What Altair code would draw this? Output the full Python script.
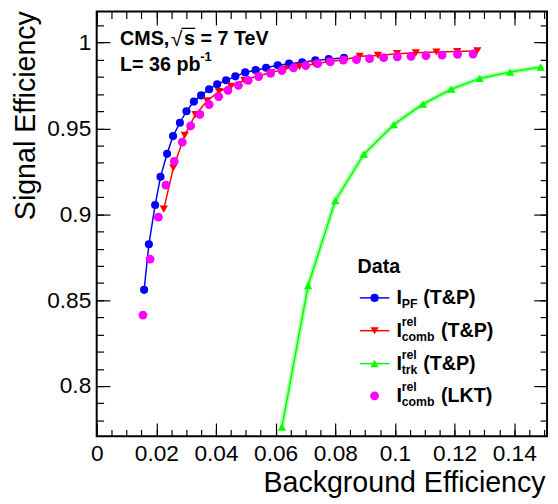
import altair as alt
import pandas as pd

# ---------------- data ----------------
pf_x = [0.0159, 0.0175, 0.0196, 0.0214, 0.0236, 0.0256, 0.0279, 0.0301, 0.0326, 0.0350,
        0.0377, 0.0404, 0.0434, 0.0465, 0.0498, 0.0533, 0.0568, 0.0607, 0.0645, 0.0689,
        0.0733, 0.0778, 0.0829]
pf_y = [0.856, 0.8825, 0.9054, 0.9218, 0.9352, 0.9455, 0.9533, 0.9600, 0.9656, 0.9692,
        0.9728, 0.9757, 0.9780, 0.9803, 0.9826, 0.9839, 0.9853, 0.9868, 0.9877, 0.9885,
        0.9896, 0.9903, 0.9911]

comb_x = [0.0225, 0.0257, 0.0295, 0.0331, 0.0370, 0.0410, 0.0450, 0.0495, 0.0540, 0.0585,
          0.0630, 0.0680, 0.0730, 0.0780, 0.0830, 0.0882, 0.0943, 0.1007, 0.1070, 0.1139,
          0.1209, 0.1276]
comb_y = [0.903, 0.927, 0.946, 0.958, 0.966, 0.9715, 0.9745, 0.978, 0.9805, 0.9825,
          0.9845, 0.986, 0.9875, 0.989, 0.990, 0.992, 0.9925, 0.9935, 0.994, 0.9945,
          0.9948, 0.9952]

trk_x = [0.0621, 0.0709, 0.0800, 0.0896, 0.0996, 0.1094, 0.1189, 0.1284, 0.1386, 0.1489]
trk_y = [0.776, 0.8585, 0.9079, 0.935, 0.9522, 0.9642, 0.9728, 0.9791, 0.9828, 0.9857]

lkt_x = [0.0155, 0.0179, 0.0207, 0.0232, 0.0260, 0.0287, 0.0315, 0.0346, 0.0377, 0.0409,
         0.0440, 0.0475, 0.0508, 0.0543, 0.0583, 0.0621, 0.0660, 0.0701, 0.0741, 0.0783,
         0.0827, 0.0871, 0.0915, 0.0962, 0.1008, 0.1054, 0.1104, 0.1158, 0.1210, 0.1262]
lkt_y = [0.8413, 0.8739, 0.8983, 0.9170, 0.9308, 0.9420, 0.9514, 0.9581, 0.9639, 0.9685,
         0.9722, 0.9751, 0.9780, 0.9801, 0.9820, 0.9837, 0.9853, 0.9866, 0.9877, 0.9887,
         0.9897, 0.9900, 0.9906, 0.9912, 0.9917, 0.9920, 0.9923, 0.9927, 0.9931, 0.9933]

x_major = [0, 0.02, 0.04, 0.06, 0.08, 0.1, 0.12, 0.14]
y_major = [0.8, 0.85, 0.9, 0.95, 1.0]
x_minor = [round(i * 0.005, 3) for i in range(0, 31)]
y_minor = [round(0.78 + i * 0.01, 2) for i in range(0, 24)]

x_title = "Background Efficiency"
y_title = "Signal Efficiency"

legend_head = "Data"
legend_sub = ["PF", "comb", "trk", "comb"]
legend_sup = ["", "rel", "rel", "rel"]
legend_suffix = ["(T&P)", "(T&P)", "(T&P)", "(LKT)"]
series_colors = ["#0000ff", "#ff0000", "#00ff00", "#ff00ff"]
series_shapes = ["circle", "triangle-down", "triangle-up", "circle"]

# ---------------- layout ----------------
W, H = 457, 431
XDOM = [0, 0.151]
YDOM = [0.7707, 1.018]
FONT = "Liberation Sans"
MAJ, MIN = 13.5, 7
SIZES = [68, 70, 72, 80]

xs = alt.Scale(domain=XDOM, nice=False, zero=False)
ys = alt.Scale(domain=YDOM, nice=False, zero=False)

df_pf = pd.DataFrame({"x": pf_x, "y": pf_y})
df_comb = pd.DataFrame({"x": comb_x, "y": comb_y})
df_trk = pd.DataFrame({"x": trk_x, "y": trk_y})
df_lkt = pd.DataFrame({"x": lkt_x, "y": lkt_y})
df_all = pd.concat([df_pf, df_comb, df_trk, df_lkt], ignore_index=True)
one = pd.DataFrame({"k": [0]})


def axis_layer(xaxis, yaxis):
    return alt.Chart(df_all).mark_point(opacity=0).encode(
        x=alt.X("x:Q", scale=xs, axis=xaxis),
        y=alt.Y("y:Q", scale=ys, axis=yaxis),
    )


common = dict(domain=False, grid=False, tickColor="black", tickWidth=1.2)

ax_bottom = alt.Axis(orient="bottom", values=x_major, tickSize=MAJ, offset=-MAJ,
                     format="~g", labelFont=FONT, labelFontSize=23, labelColor="black",
                     labelPadding=7, labelFlush=False, labelOverlap=False,
                     title=x_title, titleFont=FONT, titleFontSize=29,
                     titleFontWeight="normal", titleColor="black", titleAlign="right",
                     titleBaseline="alphabetic", titleX=W - 2, titleY=69,
                     **common)
ax_left = alt.Axis(orient="left", values=y_major, tickSize=MAJ, offset=-MAJ,
                   format="~g", labelFont=FONT, labelFontSize=23, labelColor="black",
                   labelPadding=6, labelFlush=False, labelOverlap=False,
                   title=y_title, titleFont=FONT, titleFontSize=29, titleAngle=270,
                   titleFontWeight="normal", titleColor="black", titleAlign="right",
                   titleBaseline="alphabetic", titleX=-63 - MAJ, titleY=-1,
                   **common)
ax_bottom_min = alt.Axis(orient="bottom", values=x_minor, tickSize=MIN, offset=-MIN,
                         labels=False, title=None, **common)
ax_left_min = alt.Axis(orient="left", values=y_minor, tickSize=MIN, offset=-MIN,
                       labels=False, title=None, **common)
ax_top = alt.Axis(orient="top", values=x_major, tickSize=MAJ, offset=-MAJ,
                  labels=False, title=None, **common)
ax_right = alt.Axis(orient="right", values=y_major, tickSize=MAJ, offset=-MAJ,
                    labels=False, title=None, **common)
ax_top_min = alt.Axis(orient="top", values=x_minor, tickSize=MIN, offset=-MIN,
                      labels=False, title=None, **common)
ax_right_min = alt.Axis(orient="right", values=y_minor, tickSize=MIN, offset=-MIN,
                        labels=False, title=None, **common)

layers = [
    axis_layer(ax_bottom, ax_left),
    axis_layer(ax_bottom_min, ax_left_min),
    axis_layer(ax_top, ax_right),
    axis_layer(ax_top_min, ax_right_min),
]


def enc():
    return dict(x=alt.X("x:Q", scale=xs, axis=None), y=alt.Y("y:Q", scale=ys, axis=None))


# blue
layers.append(alt.Chart(df_pf).mark_line(color=series_colors[0], strokeWidth=1.5).encode(**enc()))
layers.append(alt.Chart(df_pf).mark_point(shape="circle", filled=True, opacity=1, size=SIZES[0],
                                          color=series_colors[0]).encode(**enc()))
# red
layers.append(alt.Chart(df_comb).mark_line(color=series_colors[1], strokeWidth=1.5).encode(**enc()))
layers.append(alt.Chart(df_comb).mark_point(shape="triangle-down", filled=True, opacity=1,
                                            size=SIZES[1], color=series_colors[1]).encode(**enc()))
# green with light band
layers.append(alt.Chart(df_trk).mark_line(color=series_colors[2], strokeWidth=5, opacity=0.3).encode(**enc()))
layers.append(alt.Chart(df_trk).mark_line(color=series_colors[2], strokeWidth=1.5).encode(**enc()))
layers.append(alt.Chart(df_trk).mark_point(shape="triangle-up", filled=True, opacity=1,
                                           size=SIZES[2], color=series_colors[2]).encode(**enc()))
# magenta
layers.append(alt.Chart(df_lkt).mark_point(shape="circle", filled=True, opacity=1, size=SIZES[3],
                                           color=series_colors[3]).encode(**enc()))


def txt(s, x, y, size, weight="bold", align="left"):
    return alt.Chart(one).mark_text(text=s, font=FONT, fontSize=size, fontWeight=weight,
                                    align=align, baseline="alphabetic", color="black").encode(
        x=alt.value(x), y=alt.value(y))


# CMS label
layers.append(txt("CMS,", 23.7, 33.7, 20))
layers.append(txt("\u221a", 75.5, 34.5, 21, weight="normal"))
layers.append(txt("s = 7 TeV", 88.7, 33.7, 20))
layers.append(alt.Chart(one).mark_rule(color="black", strokeWidth=1.3).encode(
    x=alt.value(86), x2=alt.value(100), y=alt.value(17)))
layers.append(txt("L= 36 pb", 23.7, 60.3, 20))
layers.append(txt("-1", 105, 50, 13))

# legend
layers.append(txt(legend_head, 264.7, 265.3, 20))
base = [297, 330.3, 363.7, 396.5]
for i in range(4):
    b = base[i]
    my = b - 6.5
    if i < 3:
        layers.append(alt.Chart(one).mark_rule(color=series_colors[i], strokeWidth=1.5).encode(
            x=alt.value(267), x2=alt.value(297), y=alt.value(my)))
    layers.append(alt.Chart(one).mark_point(shape=series_shapes[i], filled=True, opacity=1,
                                            size=SIZES[i], color=series_colors[i]).encode(
        x=alt.value(282), y=alt.value(my)))
    layers.append(txt("I", 304.3, b, 20))
    layers.append(txt(legend_sub[i], 309.5, b + 4, 12.5))
    if legend_sup[i]:
        layers.append(txt(legend_sup[i], 309.5, b - 11.5, 12.5))
    sx = 331.3 if legend_sub[i] in ("PF", "trk") else 349.3
    layers.append(txt(legend_suffix[i], sx, b, 20))

chart = alt.layer(*layers).resolve_axis(x="independent", y="independent").properties(
    width=W, height=H,
    autosize=alt.AutoSizeParams(type="none"),
    padding={"left": 90, "top": 0, "right": 3, "bottom": 65},
).configure_view(stroke="black", strokeWidth=2)

chart.save("out.html", embed_options={"renderer": "svg", "actions": False})
